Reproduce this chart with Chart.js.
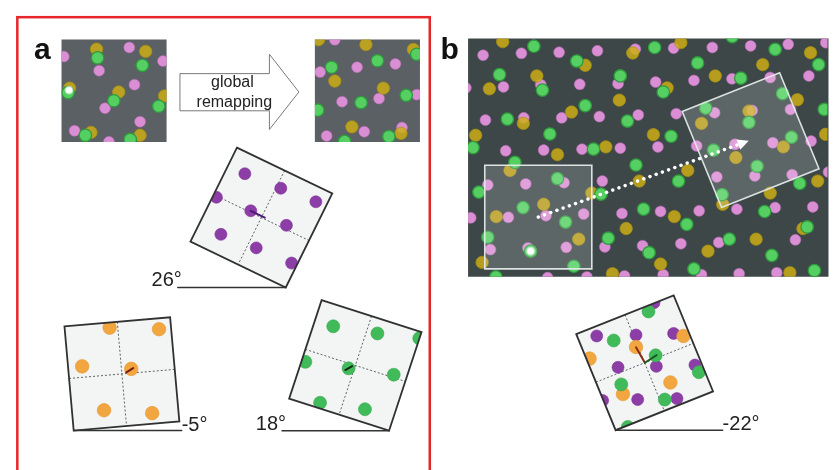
<!DOCTYPE html>
<html>
<head>
<meta charset="utf-8">
<script src="https://cdn.jsdelivr.net/npm/chart.js@4.4.1/dist/chart.umd.min.js"></script>
<style>
  html, body { margin: 0; padding: 0; background: #ffffff; }
  canvas { display: block; }
</style>
</head>
<body>
<canvas id="fig" width="835" height="470"></canvas>
<script>
// ---------- cell positions (x, y) per map ----------
// a: small arena map before remapping
const mapBeforePink   = [[57.3,50.7],[124,41.3],[158.3,55.3],[93.3,65.3],[129.3,79.7],[99.3,104],[135,118],[68.3,127.3],[103.3,138.7]];
const mapBeforeYellow = [[90.7,43],[140.7,45.3],[63.3,83.3],[113.3,87.3],[160,91.3],[85,129],[135,132]];
const mapBeforeGreen  = [[91.7,52],[137.3,59.7],[61.7,88],[108.3,96.3],[154,102],[79.3,132],[125,136.3]];
const mapBeforeMarker = [[62.7,85.3]];

// a: small arena map after remapping
const mapAfterPink   = [[333.3,33.3],[395,58.3],[356,61.7],[318.3,66.7],[378.3,94],[416.7,90],[340.7,97.3],[363.3,128.3],[325,132.7],[401.7,124]];
const mapAfterYellow = [[316.7,33.3],[365,38.3],[413.3,43.3],[333.3,76],[382.7,83.3],[350.7,123.3],[400.7,130]];
const mapAfterGreen  = [[416.7,48.3],[376.7,55],[330,61.7],[406,90.7],[360,98.3],[316,106],[343.3,138.3],[388.3,133.3]];

// a: single-module grids
const gridPurple26 = [[241.7,171.7],[278.3,186.7],[314,200.7],[212.7,196],[247.7,210],[284,225],[217.3,234.3],[253.3,248.3],[289.3,264]];
const gridOrangeM5 = [[104,330.7],[154.3,332.3],[76,370.7],[126,373.3],[98.3,416],[147.3,419]];
const gridGreen18  = [[331.7,329.3],[376.7,336.7],[419.3,341.7],[303.3,366],[347.3,372.7],[393.3,379.3],[318.3,408.3],[364,415]];

// b: large environment
const envPink = [
  [484.3,49.3],[523.3,47.3],[561.7,46.3],[600.7,44.7],[639.3,43],[543,79.7],[505,82],[466.7,83],[582.7,79.3],[621.7,78.7],
  [564.3,114],[602.7,112.7],[642.3,111],[486.7,116.3],[525.7,114],[507.3,148],[546,147.3],[585,146.3],[624,145.3],
  [678.3,42],[717.7,41.3],[756.7,39.7],[795,38],[833.3,36.3],[660,77],[699,75.3],[737.7,73.7],[776.7,72.3],[816,70.7],
  [797.3,105.3],[681,109.7],[720,108.7],[758.3,106.3],[662.3,144],[701.7,143],[740.7,141.3],[779.3,139.7],[818.3,138],
  [489,183.3],[527.7,182.3],[566.7,181],[605.7,179.3],[471.7,217.3],[510,216.7],[548.3,215],[586.7,213.3],[625.7,212.7],
  [608.3,247.3],[646.7,246],[491.7,250],[530,248.3],[569,247.7],[628.3,277.3],[550,279],[590,278.3],
  [722.3,175],[761,174],[799,172.7],[665,210.7],[704.3,210],[742.7,208.3],[781.7,206.7],[820,206],[836,170],
  [685.7,244],[724.3,242.7],[802.3,240],[706.7,276],[745,275],[783.3,274],[667.7,276]
];
const envYellow = [
  [504.3,35.3],[588.3,59.7],[636.7,47],[539,70.7],[490.7,84],[623,95.7],[574.3,108],[525.3,119.7],[476.7,132],[560,152],[609.3,144],
  [685.7,36.3],[817.7,46.7],[769,59],[671.7,83],[720.7,70.7],[804.3,95.3],[706.7,119.7],[755,107],[657.7,131.3],[790,144],[833,131],
  [511.7,168.3],[643.3,179.3],[595,191.7],[546,203.3],[497.7,216],[630,228.3],[581.7,239.3],[483.3,263.3],[616,275],
  [692.7,168.3],[741.7,155],[825,179.3],[776.7,191.7],[728.3,203.3],[679,216],[810,228.3],[762.3,239.3],[665,265],[713.3,251.7],[796.7,274]
];
const envGreen = [
  [536,40],[579.7,55.3],[501,69.3],[544.7,85.3],[624,70.7],[588.3,101.3],[631.3,117.3],[509,115.3],[552.3,130.7],[474,144.7],[596.7,146.3],
  [659,41.3],[781.7,43.3],[826,59],[702.7,57.3],[667.7,87.3],[746.7,73],[789.3,89],[831.7,105.3],[711,104],[755,118.7],[675.7,133],[719,147.3],[798.3,134],[738,30],
  [516.7,160],[640,162.7],[480,190.7],[560,176.7],[604.3,192.7],[525,206.7],[647.7,208.3],[568.3,221.7],[489,237.3],[611.7,238.3],[532.7,251.7],[653.3,253.3],[576.7,267.3],[497.3,278.3],
  [683.3,179.3],[763.3,164],[806.7,181.7],[727.7,193.3],[691.7,224],[771,210.7],[814.3,226.7],[735,239.3],[778.3,256],[699,270],[821.7,271.7]
];
const envMarker = [[532.7,251.7]];

// b: cells within the rotated window, re-plotted in its own frame
const windowPurple = [[658.3,305],[600,339.3],[640,338.3],[678.3,336.7],[660.7,370.7],[621.7,371.7],[700,369.3],[641.7,405],[681.7,404],[606,406]];
const windowGreen  = [[652.7,314],[617.3,344],[660,359.3],[704,376.7],[625,389.3],[669.3,405],[631.7,433.3]];
const windowOrange = [[688.3,339.3],[640,350.7],[592.7,362.7],[626.7,399.3],[675,387.3]];

// grid orientations, degrees
const gridAngles = [26, -5, 18, -22];

// ---------- layout of the panels ----------
const arenas = {
  before: { type: 'rect', x0: 55,  y0: 33, x1: 162, y1: 139, fill: '#5b6064' },
  after:  { type: 'rect', x0: 313, y0: 33, x1: 420, y1: 139, fill: '#5b6064' },
  env:    { type: 'rect', x0: 469, y0: 32, x1: 836, y1: 278, fill: '#3d4748' }
};
const grids = {
  g26:  { type: 'sq', cx: 258.5, cy: 217,   side: 108, angle: gridAngles[0] },
  gm5:  { type: 'sq', cx: 116.5, cy: 378.5, side: 108, angle: gridAngles[1] },
  g18:  { type: 'sq', cx: 354.2, cy: 369.7, side: 107, angle: gridAngles[2] },
  gm22: { type: 'sq', cx: 648.8, cy: 367,   side: 107, angle: gridAngles[3] }
};
const windowStill = { type: 'rect', x0: 486, y0: 163, x1: 595, y1: 270 };
const windowMoved = { type: 'sq', cx: 756.7, cy: 137, side: 107, angle: gridAngles[3] };

// short displacement traces at grid centres
const traces = [
  { from: [121, 377], to: [128, 372.5], color: '#7a1c12' },
  { from: [247.7, 210], to: [262, 217], color: '#4b1a78' },
  { from: [344, 374.5], to: [351, 370.5], color: '#142a14' },
  { from: [640, 351], to: [649, 367], color: '#8a2a16' },
  { from: [649, 367], to: [661, 359], color: '#1c5a22' }
];

// ---------- helpers ----------
function corners(s) {
  const h = s.side / 2, a = s.angle * Math.PI / 180, c = Math.cos(a), sn = Math.sin(a);
  return [[-h,-h],[h,-h],[h,h],[-h,h]].map(([u,v]) => [s.cx + u*c - v*sn, s.cy + u*sn + v*c]);
}
function local(s, u, v) {
  const a = s.angle * Math.PI / 180, c = Math.cos(a), sn = Math.sin(a);
  return [s.cx + u*c - v*sn, s.cy + u*sn + v*c];
}
function pathRegion(ctx, chart, r) {
  const X = v => chart.scales.x.getPixelForValue(v), Y = v => chart.scales.y.getPixelForValue(v);
  ctx.beginPath();
  if (r.type === 'rect') {
    ctx.rect(X(r.x0), Y(r.y0), X(r.x1) - X(r.x0), Y(r.y1) - Y(r.y0));
  } else {
    corners(r).forEach(([x,y], i) => i ? ctx.lineTo(X(x), Y(y)) : ctx.moveTo(X(x), Y(y)));
    ctx.closePath();
  }
}

const pts = arr => arr.map(([x, y]) => ({ x, y }));
function cells(data, region, style) {
  return Object.assign({ data: pts(data), region, showLine: false, pointHoverRadius: 0 }, style);
}

const stPink   = { pointRadius: 5.5, pointBackgroundColor: '#da8fd4', pointBorderColor: 'rgba(175,105,175,0.7)', pointBorderWidth: 0.8 };
const stYellow = { pointRadius: 6.2, pointBackgroundColor: 'rgba(206,174,22,0.84)', pointBorderColor: 'rgba(168,146,14,0.9)', pointBorderWidth: 0.8 };
const stGreen  = { pointRadius: 6.2, pointBackgroundColor: '#55cf62', pointBorderColor: '#2f9a3e', pointBorderWidth: 1.3 };
const stMarker = { pointRadius: 3.2, pointBackgroundColor: '#ffffff', pointBorderColor: 'rgba(255,255,255,0.55)', pointBorderWidth: 2.5 };
const stPurpleG = { pointRadius: 6, pointBackgroundColor: '#8c3da6', pointBorderColor: '#7d3298', pointBorderWidth: 0.6 };
const stOrangeG = { pointRadius: 6.8, pointBackgroundColor: '#f2a63f', pointBorderColor: '#e59a35', pointBorderWidth: 0.6 };
const stGreenG  = { pointRadius: 6.5, pointBackgroundColor: '#41ba5a', pointBorderColor: '#37ad50', pointBorderWidth: 0.6 };

// painted bottom to top
const layers = [
  cells(mapBeforePink, arenas.before, stPink),
  cells(mapBeforeYellow, arenas.before, stYellow),
  cells(mapBeforeGreen, arenas.before, stGreen),
  cells(mapBeforeMarker, arenas.before, stMarker),
  cells(mapAfterPink, arenas.after, stPink),
  cells(mapAfterYellow, arenas.after, stYellow),
  cells(mapAfterGreen, arenas.after, stGreen),
  cells(envPink, arenas.env, stPink),
  cells(envYellow, arenas.env, stYellow),
  cells(envGreen, arenas.env, stGreen),
  cells(envMarker, arenas.env, stMarker),
  cells(gridPurple26, grids.g26, stPurpleG),
  cells(gridOrangeM5, grids.gm5, stOrangeG),
  cells(gridGreen18, grids.g18, stGreenG),
  cells(windowPurple, grids.gm22, stPurpleG),
  cells(windowOrange, grids.gm22, stOrangeG),
  cells(windowGreen, grids.gm22, stGreenG)
];
const datasets = layers.slice().reverse();

const FONT = '"Liberation Sans", Arial, Helvetica, sans-serif';

const figurePlugin = {
  id: 'figure',
  beforeDatasetsDraw(chart) {
    const ctx = chart.ctx;
    const X = v => chart.scales.x.getPixelForValue(v), Y = v => chart.scales.y.getPixelForValue(v);
    ctx.save();
    ctx.fillStyle = '#ffffff';
    ctx.fillRect(0, 0, chart.width, chart.height);
    Object.values(arenas).forEach(r => {
      pathRegion(ctx, chart, r);
      ctx.fillStyle = r.fill;
      ctx.fill();
    });
    Object.values(grids).forEach(g => {
      pathRegion(ctx, chart, g);
      ctx.fillStyle = '#f3f5f5';
      ctx.fill();
      ctx.setLineDash([2, 2]);
      ctx.strokeStyle = '#5d6266';
      ctx.lineWidth = 1;
      const h = g.side / 2;
      [[[-h,0],[h,0]], [[0,-h],[0,h]]].forEach(([p, q]) => {
        const a = local(g, p[0], p[1]), b = local(g, q[0], q[1]);
        ctx.beginPath(); ctx.moveTo(X(a[0]), Y(a[1])); ctx.lineTo(X(b[0]), Y(b[1])); ctx.stroke();
      });
      ctx.setLineDash([]);
    });
    ctx.restore();
  },
  beforeDatasetDraw(chart, args) {
    const r = chart.data.datasets[args.index].region;
    chart.ctx.save();
    if (r) { pathRegion(chart.ctx, chart, r); chart.ctx.clip(); }
  },
  afterDatasetDraw(chart) {
    chart.ctx.restore();
  },
  afterDatasetsDraw(chart) {
    const ctx = chart.ctx;
    const X = v => chart.scales.x.getPixelForValue(v), Y = v => chart.scales.y.getPixelForValue(v);
    ctx.save();

    // translucent windows in the large environment
    [windowStill, windowMoved].forEach(w => {
      pathRegion(ctx, chart, w);
      ctx.fillStyle = 'rgba(255,255,255,0.17)';
      ctx.fill();
      ctx.strokeStyle = 'rgba(228,233,233,0.95)';
      ctx.lineWidth = 1.6;
      ctx.stroke();
    });

    // dotted path between window centres
    const s = [(windowStill.x0 + windowStill.x1) / 2, (windowStill.y0 + windowStill.y1) / 2];
    const e = [windowMoved.cx, windowMoved.cy];
    const dx = X(e[0]) - X(s[0]), dy = Y(e[1]) - Y(s[1]);
    const len = Math.hypot(dx, dy), ux = dx / len, uy = dy / len;
    ctx.fillStyle = '#ffffff';
    for (let d = 0; d < len - 13; d += 6.6) {
      ctx.beginPath();
      ctx.arc(X(s[0]) + ux * d, Y(s[1]) + uy * d, 1.8, 0, Math.PI * 2);
      ctx.fill();
    }
    const tx = X(e[0]) - ux * 2, ty = Y(e[1]) - uy * 2;
    ctx.beginPath();
    ctx.moveTo(tx, ty);
    ctx.lineTo(tx - ux * 11 - uy * 5.5, ty - uy * 11 + ux * 5.5);
    ctx.lineTo(tx - ux * 11 + uy * 5.5, ty - uy * 11 - ux * 5.5);
    ctx.closePath();
    ctx.fill();

    // displacement traces
    traces.forEach(t => {
      ctx.strokeStyle = t.color;
      ctx.lineWidth = 2;
      ctx.lineCap = 'round';
      ctx.beginPath(); ctx.moveTo(X(t.from[0]), Y(t.from[1])); ctx.lineTo(X(t.to[0]), Y(t.to[1])); ctx.stroke();
    });

    // grid frames, horizontal reference lines and angle labels
    ctx.font = '20px ' + FONT;
    ctx.textBaseline = 'alphabetic';
    Object.values(grids).forEach(g => {
      pathRegion(ctx, chart, g);
      ctx.strokeStyle = '#2f3133';
      ctx.lineWidth = 1.8;
      ctx.stroke();
      const c = corners(g);
      const low = g.angle >= 0 ? c[2] : c[3];
      const x0 = X(low[0]), y0 = Y(low[1]);
      const x1 = g.angle >= 0 ? x0 - g.side : x0 + g.side;
      ctx.strokeStyle = '#333333';
      ctx.lineWidth = 1.5;
      ctx.beginPath(); ctx.moveTo(x0, y0); ctx.lineTo(x1, y0); ctx.stroke();
      ctx.fillStyle = '#222222';
      const label = g.angle + '\u00B0';
      if (g.angle >= 0) { ctx.textAlign = 'right'; ctx.fillText(label, x1 + 4, y0 - 1); }
      else { ctx.textAlign = 'left'; ctx.fillText(label, x1, y0); }
    });

    // remapping arrow
    const arrow = [[176,68.3],[266.7,68.3],[266.7,48.3],[296.7,87.3],[266.7,126],[266.7,106.7],[176,106.7]];
    ctx.beginPath();
    arrow.forEach(([x, y], i) => i ? ctx.lineTo(X(x), Y(y)) : ctx.moveTo(X(x), Y(y)));
    ctx.closePath();
    ctx.fillStyle = '#ffffff';
    ctx.fill();
    ctx.strokeStyle = '#7a7a7a';
    ctx.lineWidth = 1;
    ctx.stroke();
    ctx.fillStyle = '#222222';
    ctx.font = '16px ' + FONT;
    ctx.textAlign = 'center';
    ctx.fillText('global', X(229), Y(82.5));
    ctx.fillText('remapping', X(231), Y(102.5));

    // panel frame and letters
    ctx.strokeStyle = '#e6262a';
    ctx.lineWidth = 2.5;
    ctx.strokeRect(X(10), Y(10), X(430) - X(10), 480);
    ctx.fillStyle = '#111111';
    ctx.font = 'bold 30px ' + FONT;
    ctx.textAlign = 'left';
    ctx.fillText('a', X(27), Y(53));
    ctx.fillText('b', X(441), Y(53));
    ctx.restore();
  }
};

new Chart(document.getElementById('fig'), {
  type: 'scatter',
  data: { datasets },
  options: {
    responsive: false,
    animation: false,
    devicePixelRatio: 1,
    events: [],
    layout: { padding: 0 },
    scales: {
      x: { type: 'linear', min: 0, max: 835, display: false },
      y: { type: 'linear', min: 0, max: 470, reverse: true, display: false }
    },
    plugins: { legend: { display: false }, tooltip: { enabled: false } }
  },
  plugins: [figurePlugin]
});
</script>
</body>
</html>
